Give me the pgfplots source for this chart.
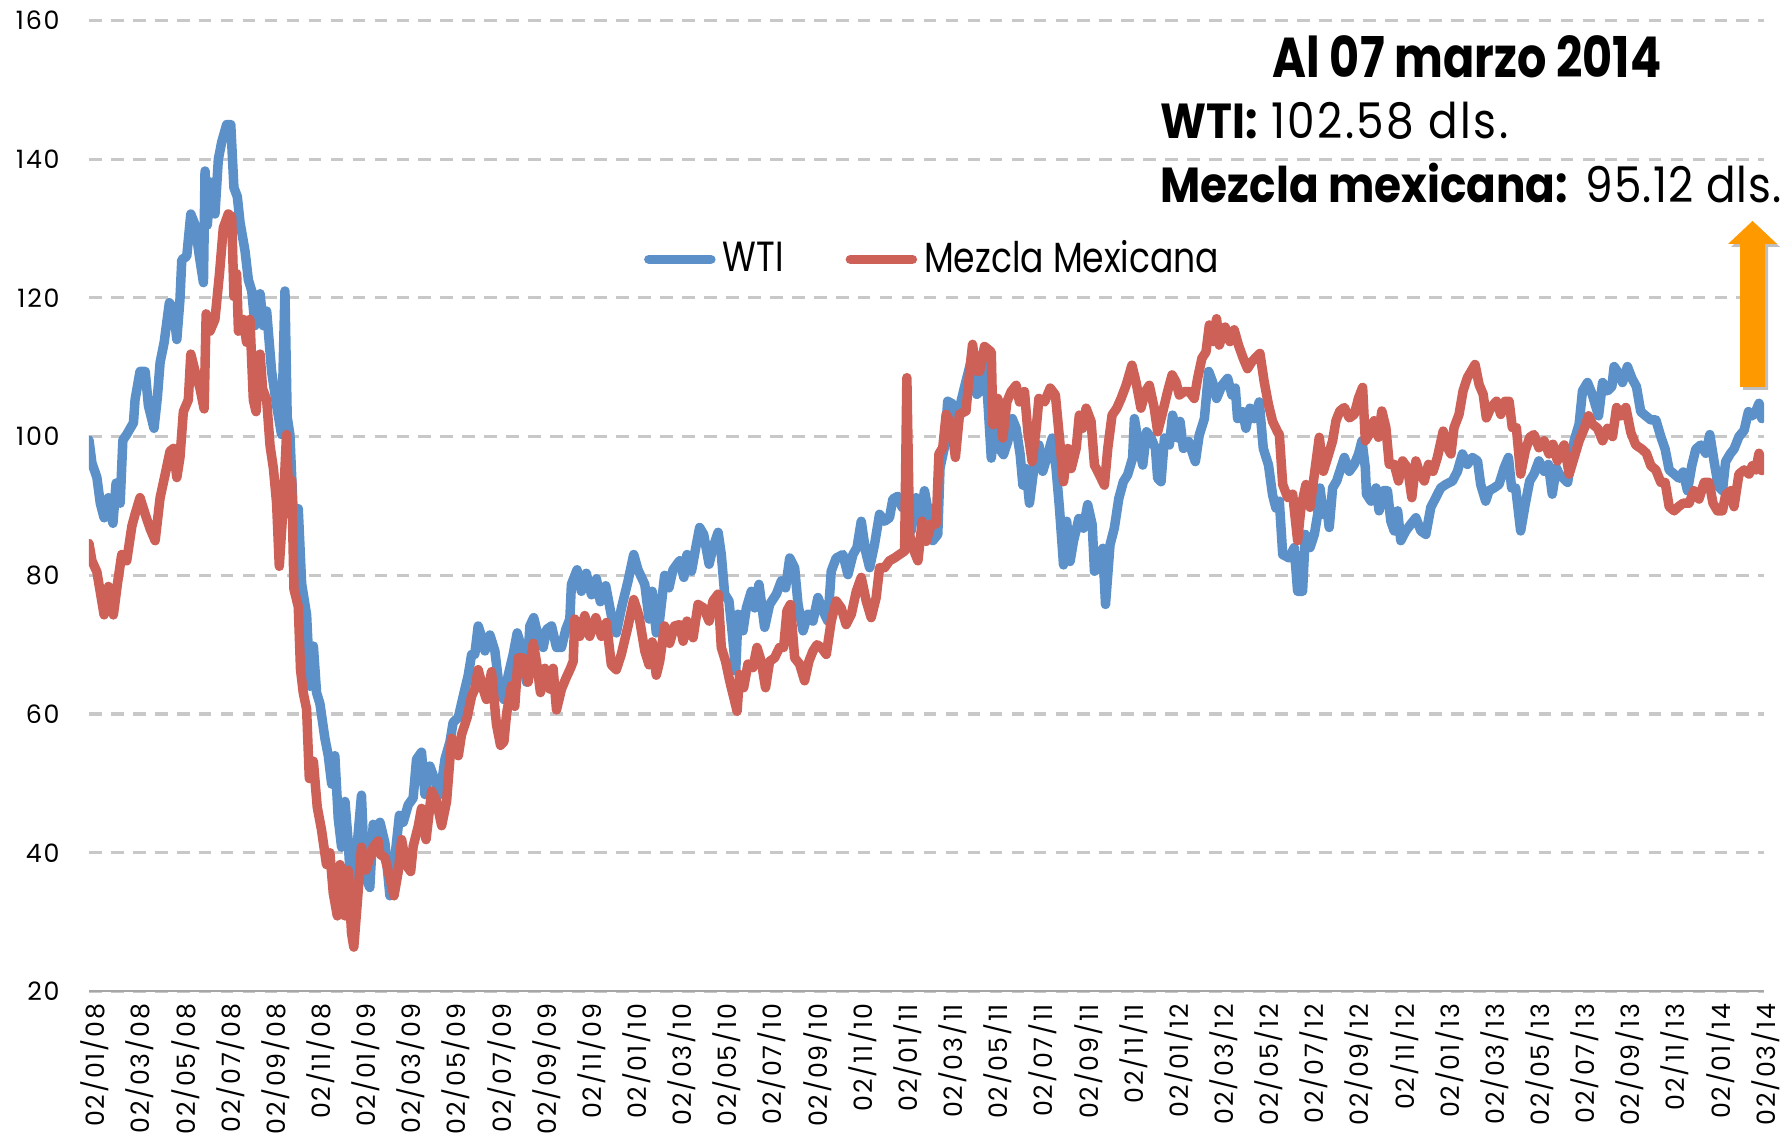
\documentclass[border=0pt]{standalone}
\usepackage{fontspec}
\setmainfont{Poppins}
\newfontfamily\fut[FakeStretch=0.82]{Poppins}
\newfontfamily\futb[FakeStretch=0.89]{Poppins}
\newfontfamily\futr[FakeStretch=0.89,LetterSpace=5]{Poppins}
\newfontfamily\futrr[FakeStretch=0.89,LetterSpace=2.2]{Poppins}
\newfontfamily\tickf[LetterSpace=7]{Poppins}
\usepackage{pgfplots}
\pgfplotsset{compat=1.18}
\usepackage{pgfplotstable}
\definecolor{wti}{HTML}{5B90C9}
\definecolor{mez}{HTML}{CD6157}
\definecolor{grd}{HTML}{C8C8C8}
\definecolor{axg}{HTML}{A6A6A6}
\definecolor{arr}{HTML}{FF9900}

\pgfplotstableread{
m v
0 99.5
0.13 96.2
0.35 94.1
0.5 90.4
0.67 88.3
0.86 91.2
1.06 87.5
1.2 93.3
1.38 90.4
1.5 99.5
1.67 100.3
1.97 102
2.04 105.3
2.26 109.4
2.49 109.4
2.63 104.5
2.88 101.2
3.03 105.7
3.15 110.7
3.33 113.6
3.56 119.3
3.74 118.5
3.89 114
4.03 119.8
4.11 125.5
4.33 126
4.51 132.1
4.7 130.5
4.89 126
5.07 122.2
5.14 138.3
5.24 130.5
5.39 136.7
5.58 132.1
5.73 140
5.88 142.5
6.1 145
6.28 145
6.42 135.9
6.57 134.6
6.69 130.9
6.91 126.8
7.06 122.6
7.21 121
7.35 116
7.58 120.6
7.72 116
7.87 118.1
8.09 109.4
8.31 104.5
8.53 100.3
8.68 121
8.78 102.8
8.9 100.3
9.05 88.8
9.27 89.6
9.42 78.8
9.64 74.3
9.79 64
9.94 69.8
10.08 63.1
10.23 61.5
10.45 56.5
10.6 54
10.75 49.9
10.89 54
11.04 45
11.19 40.8
11.34 47.4
11.48 41.7
11.63 33.4
11.71 30.9
11.85 40
12.07 48.3
12.22 36.7
12.44 35
12.59 44.1
12.81 41.7
12.89 44.4
13.11 41.4
13.33 33.8
13.55 39.3
13.75 45.4
13.92 44.4
14.14 46.9
14.36 47.9
14.51 53.5
14.73 54.5
14.88 48.4
15.1 52.5
15.32 50.5
15.55 48.4
15.77 53.5
15.99 56
16.13 58.8
16.36 59.5
16.58 62.6
16.8 65.6
16.95 68.6
17.09 68.6
17.24 72.7
17.39 71.2
17.54 69.1
17.76 71.4
17.98 69.1
18.2 63.1
18.38 62.1
18.57 65.6
18.79 68.6
18.97 71.7
19.16 69.6
19.38 64.6
19.53 72.7
19.7 73.9
19.9 71.2
20.12 69.6
20.27 72.2
20.49 72.7
20.71 69.6
20.93 69.6
21.12 72.2
21.3 73.7
21.37 78.7
21.62 80.8
21.81 77.7
22.03 80.3
22.26 77.2
22.48 79.5
22.65 76.2
22.89 78.5
23.14 74.2
23.36 71.7
23.58 75.2
23.88 79.2
24.13 83
24.32 80.8
24.62 78.7
24.81 73.7
24.95 77.7
25.13 71.7
25.28 73.7
25.5 80
25.69 78.2
25.87 80.8
26.09 81.8
26.17 82.1
26.35 79.7
26.49 83
26.69 80.6
26.88 84
27.05 86.9
27.23 85.9
27.47 81.6
27.64 84
27.87 86.2
28.01 83
28.16 77.3
28.35 76.3
28.5 71.5
28.65 66.2
28.75 74.4
28.97 72
29.12 75.3
29.34 77.7
29.49 75.3
29.68 78.7
29.93 72.5
30.15 75.8
30.45 77.3
30.67 79.2
30.86 78.2
31.04 82.5
31.26 81.1
31.41 75.8
31.63 72
31.85 74.4
32.07 73.4
32.29 76.8
32.51 74.9
32.73 73.4
32.88 80.6
33.1 82.5
33.4 83
33.62 80.1
33.84 83
34.02 84
34.21 87.8
34.4 83.5
34.58 81.1
34.8 84.5
35.02 88.8
35.24 87.8
35.46 88.3
35.61 91
35.83 91.4
36.02 89.8
36.2 91.2
36.42 86.4
36.64 91.2
36.82 87.8
37.01 92.2
37.2 88.8
37.38 85
37.6 85.9
37.7 95.5
37.89 98.4
38.04 105.1
38.26 104.7
38.48 101.3
38.63 105.1
38.85 108
39.08 110.9
39.33 106.1
39.45 106.5
39.67 111.8
39.82 105
39.97 96.9
40.11 101.2
40.33 98.3
40.51 97.4
40.7 99.3
40.9 102.6
41.07 101.2
41.25 97.4
41.37 93
41.51 95.4
41.66 90.4
41.84 95
42.08 98.8
42.25 95
42.47 97.4
42.67 99.8
42.84 95.4
42.99 89.7
43.17 81.5
43.31 87.8
43.46 82
43.61 84.9
43.85 88.2
44.05 86.8
44.24 90.2
44.44 87.3
44.54 80.6
44.76 81.1
44.91 83.9
45.03 75.8
45.23 84.4
45.42 86.8
45.62 91.1
45.82 93.5
46.01 94.5
46.23 96.9
46.31 102.6
46.5 98.8
46.68 95.9
46.85 100.7
47.05 99.8
47.24 98.3
47.34 94
47.49 93.5
47.64 99.8
47.86 98.8
48 103.1
48.23 99.8
48.33 102.2
48.48 98.3
48.71 99.3
49.01 96.4
49.18 100.2
49.41 102.6
49.6 109.4
49.77 107.9
49.95 105.5
50.19 107.4
50.44 108.4
50.63 106
50.78 107
50.88 102.6
51.1 103.6
51.25 101.2
51.43 104.1
51.62 102.6
51.84 105
52.02 98.3
52.25 95.9
52.43 91.6
52.58 89.7
52.73 90.7
52.88 83
53.17 82.5
53.39 84
53.54 77.7
53.76 77.7
53.88 85.9
54.09 84
54.28 85.9
54.43 88.8
54.53 92.6
54.68 88.8
54.82 90.2
54.94 86.9
55.09 92.6
55.27 93.6
55.41 95
55.61 97
55.83 95
56.05 96
56.24 97.5
56.39 99.4
56.54 95.5
56.59 91.7
56.79 90.7
57.01 92.6
57.15 89.3
57.33 92.2
57.52 92.2
57.67 87.8
57.82 86.4
57.97 89.3
58.11 85
58.33 86.4
58.56 87.4
58.78 88.3
59 86.4
59.22 85.9
59.44 89.8
59.66 91.2
59.88 92.6
60.1 93.1
60.4 93.6
60.62 95
60.84 97.5
61.06 96
61.28 97
61.51 96.5
61.65 93.1
61.87 90.7
62.02 92.2
62.24 92.6
62.46 93.1
62.69 95.5
62.88 97
63.02 92.6
63.2 92.6
63.42 86.4
63.62 90.2
63.82 93.6
64.01 94.6
64.23 96.5
64.46 95
64.65 96
64.82 91.7
65 95.5
65.13 94.6
65.5 93.4
65.79 99.4
66.01 101.8
66.16 106.6
66.38 107.8
66.6 106
66.87 103
67.05 107.8
67.27 106.6
67.46 107.2
67.56 110.1
67.79 109
67.93 107.8
68.15 110.1
68.35 108.4
68.55 107.2
68.74 103.6
68.96 103
69.19 102.4
69.41 102.4
69.63 100
69.82 98.2
70 95.2
70.22 94.6
70.44 94
70.62 94.9
70.81 92.2
71 95.8
71.18 98.2
71.4 98.8
71.62 97.6
71.8 100.3
71.99 96.4
72.18 92.8
72.36 92.2
72.5 96.4
72.72 97.6
72.87 98.2
73.09 100
73.32 100.9
73.51 103.6
73.68 103
73.83 103.6
73.98 104.8
74.1 102.6
}\wtidata

\pgfplotstableread{
m v
0 84.6
0.13 82.1
0.35 80.5
0.52 77.2
0.67 74.3
0.86 78.4
1.08 74.3
1.26 78.8
1.45 83
1.67 82.1
1.9 87.1
2.04 88.8
2.26 91.2
2.49 88.8
2.71 86.7
2.93 85
3.15 91.2
3.37 94.5
3.59 97.9
3.74 98.3
3.89 94.1
4.03 97
4.18 103.6
4.4 105.3
4.51 111.9
4.7 109.4
4.92 106.9
5.1 104
5.19 117.7
5.36 115.2
5.58 116.9
5.78 123.5
5.95 130.1
6.17 132.1
6.32 131.7
6.42 120.2
6.54 123.5
6.62 115.2
6.84 116.9
6.98 113.6
7.13 116.9
7.28 105.3
7.4 103.6
7.58 111.9
7.69 106.9
7.87 105.3
8.02 98.7
8.17 95.4
8.31 90.4
8.43 81.3
8.61 90.4
8.75 100.3
8.87 88.8
8.98 93.7
9.08 78
9.27 75.5
9.37 66.4
9.49 63.1
9.64 60.7
9.76 50.7
9.94 53.2
10.11 46.6
10.3 43.3
10.52 38.3
10.67 40
10.82 34.2
11 30.9
11.12 38.3
11.34 30.9
11.48 37.5
11.63 28.4
11.73 26.4
11.88 32.6
12.07 40.8
12.26 37.5
12.44 39.2
12.59 40.8
12.81 41.7
12.89 39.8
13.11 39.3
13.33 36.3
13.51 33.8
13.7 37.3
13.85 41.9
14.04 38.3
14.25 37.3
14.36 40.9
14.59 43.9
14.73 46.4
14.93 41.9
15.18 48.9
15.4 47.4
15.62 43.9
15.84 47.4
16.06 56.5
16.36 54
16.5 57
16.75 59.5
16.95 62.6
17.09 63.6
17.24 66.4
17.46 63.6
17.61 62.1
17.83 66.1
18.05 58.5
18.23 55.5
18.38 56
18.5 60.1
18.72 64.1
18.86 61.1
19.01 68.1
19.23 68.1
19.45 64.6
19.68 70.2
19.82 67.6
20 63.1
20.19 66.6
20.41 63.6
20.56 66.6
20.71 60.6
20.93 63.6
21.12 65.1
21.33 66.6
21.45 67.6
21.52 73.7
21.74 71.2
21.96 74.2
22.18 71.2
22.45 73.9
22.7 71.2
22.92 73.2
23.14 67.1
23.36 66.4
23.58 68.6
23.88 72.7
24.13 76.5
24.36 74.2
24.62 69.1
24.81 67.1
24.95 70.4
25.13 65.6
25.28 67.6
25.5 72.7
25.72 70.2
25.94 72.7
26.17 72.9
26.32 70.5
26.49 73.4
26.76 71
26.98 75.8
27.23 75.3
27.47 73.4
27.64 76.3
27.87 77.3
28.01 69.6
28.2 67.6
28.38 64.8
28.6 61.9
28.71 60.4
28.82 65.7
29 63.8
29.19 67.2
29.41 66.7
29.59 69.6
29.78 67.6
29.97 63.8
30.15 67.6
30.37 68.1
30.59 69.6
30.77 69.6
30.92 74.9
31.07 75.8
31.26 68.1
31.48 67.2
31.7 64.8
31.89 67.6
32.07 69.1
32.25 70
32.44 69.6
32.66 68.6
32.88 73.4
33.1 76.3
33.32 75.3
33.54 72.9
33.77 74.4
33.99 77.7
34.21 79.7
34.43 76.3
34.65 73.9
34.87 76.8
35.02 81.1
35.24 81.1
35.46 82.1
35.68 82.5
35.9 83
36.13 83.5
36.23 108.5
36.35 85.9
36.49 84
36.72 82.1
36.91 87.8
37.09 84.9
37.31 87.4
37.53 87.4
37.65 97.5
37.82 98.4
37.97 103.2
38.19 101.8
38.38 97
38.56 103.2
38.85 103.7
39.03 110
39.14 113.3
39.29 109.5
39.45 109.4
39.67 113
39.97 112.2
40.04 101.7
40.26 105.5
40.48 99.8
40.66 105
40.85 106.5
41.07 107.4
41.22 105
41.44 106.5
41.59 100.7
41.78 96.4
41.96 101.2
42.08 105.5
42.33 105
42.58 107
42.81 106
42.99 99.8
43.17 93.5
43.36 98.3
43.51 95.4
43.73 98.3
43.87 103.1
44.02 101.2
44.17 104.1
44.39 102.2
44.54 95.9
44.76 94.5
44.98 93
45.13 98.3
45.32 103.1
45.53 104.1
45.72 105.5
45.94 107.4
46.2 110.3
46.38 107.9
46.6 104.1
46.8 106.5
46.97 107.4
47.19 104.1
47.34 100.7
47.53 103.1
47.78 106.5
47.98 108.9
48.15 107.9
48.3 106
48.52 106.5
48.74 106.5
48.96 105.5
49.11 108.4
49.3 111.3
49.48 112.2
49.63 116.1
49.8 113.7
49.95 117
50.07 113.2
50.33 115.8
50.54 113.7
50.73 115.4
50.92 113.2
51.13 111.3
51.32 109.8
51.51 110.8
51.66 111.3
51.87 112
52.06 107.9
52.25 104.6
52.43 102.2
52.65 100.7
52.73 100.3
52.88 93.1
53.1 91.2
53.32 91.7
53.54 85
53.69 89.8
53.91 93.1
54.09 89.8
54.32 95.5
54.5 99.9
54.68 95
54.87 97
55.09 99.4
55.24 102.3
55.41 103.7
55.61 104.2
55.83 102.7
56.05 103.2
56.24 105.6
56.42 107.1
56.54 99.4
56.71 100.3
56.93 102.3
57.12 99.9
57.27 103.7
57.45 101.3
57.6 96
57.82 96
58.01 93.6
58.19 96.5
58.41 95.5
58.6 91.2
58.78 96.5
58.92 95
59.15 93.6
59.34 96
59.54 95
59.73 97
59.99 100.8
60.18 98.4
60.33 97.5
60.47 101.3
60.69 103.2
60.87 106.6
61.06 108.5
61.4 110.4
61.58 107.5
61.76 106.1
61.9 102.7
62.1 104.2
62.35 105.1
62.54 103.2
62.73 105.1
62.91 105.1
63.05 101.3
63.23 101.3
63.42 94.6
63.62 97.9
63.82 99.9
64.01 100.3
64.23 98.4
64.46 99.4
64.68 97.5
64.85 98.9
65.05 96.5
65.13 97.6
65.35 98.8
65.57 94.6
65.79 97
66.01 99.4
66.24 101.2
66.43 103
66.6 101.8
66.83 101.2
67.05 99.4
67.27 101.2
67.49 100
67.67 104.2
67.86 103
68.08 104.2
68.3 100.6
68.52 98.8
68.79 98.2
68.99 97.6
69.19 95.8
69.41 95.2
69.63 93.4
69.82 93.4
70 89.9
70.22 89.3
70.41 89.9
70.62 90.4
70.88 90.4
71.1 92.2
71.32 91
71.55 93.4
71.77 93.4
71.94 90.4
72.14 89.3
72.36 89.3
72.5 91.6
72.72 92.2
72.87 89.9
73.09 94.6
73.32 95.2
73.54 94.6
73.68 95.8
73.83 95.2
73.98 97.6
74.1 95.1
}\mezdata

\begin{document}
\begin{tikzpicture}
\path[use as bounding box] (0,0) rectangle (17.87,11.41);
\begin{axis}[
  at={(0.89cm,1.495cm)}, anchor=south west,
  scale only axis, width=16.75cm, height=9.71cm,
  xmin=0, xmax=74.2, ymin=20, ymax=160,
  ytick={20,40,...,160},
  xtick={0,2,...,74},
  xticklabels={02/01/08,02/03/08,02/05/08,02/07/08,02/09/08,02/11/08,
    02/01/09,02/03/09,02/05/09,02/07/09,02/09/09,02/11/09,
    02/01/10,02/03/10,02/05/10,02/07/10,02/09/10,02/11/10,
    02/01/11,02/03/11,02/05/11,02/07/11,02/09/11,02/11/11,
    02/01/12,02/03/12,02/05/12,02/07/12,02/09/12,02/11/12,
    02/01/13,02/03/13,02/05/13,02/07/13,02/09/13,02/11/13,
    02/01/14,02/03/14},
  axis line style={draw=none},
  major tick length=0pt,
  ymajorgrids,
  grid style={grd, line width=0.9pt, dash pattern=on 3.6pt off 2.65pt},
  /pgf/number format/assume math mode=true,
  ticklabel style={font=\tickf\fontsize{7.2}{8}\selectfont, text=black},
  yticklabel style={anchor=east, xshift=-0.17cm},
  xticklabel style={rotate=90, anchor=east, yshift=-0.06cm},
  legend style={at={(0.331,0.754)}, anchor=west, draw=none, fill=none,
    inner xsep=0pt, font=\fut\fontsize{12}{14}\selectfont,
    /tikz/every even column/.append style={column sep=0.55cm}},
  legend columns=2,
  legend image code/.code={\draw[#1, line cap=round] (0cm,0cm) -- (0.62cm,0cm);},
]
\addplot[wti, line width=2.7pt, line join=round, line cap=round] table[x=m,y=v]{\wtidata};
\addlegendentry{WTI}
\addplot[mez, line width=2.7pt, line join=round, line cap=round] table[x=m,y=v]{\mezdata};
\addlegendentry{Mezcla Mexicana}
\draw[axg, line width=0.9pt] (rel axis cs:0,0) -- (rel axis cs:1,0);
\end{axis}
\node[anchor=base, inner sep=0] at (14.67,10.635) {\fut\fontsize{16}{18}\selectfont\bfseries Al 07 marzo 2014};
\node[anchor=base west, inner sep=0] at (11.60,10.02) {\fontsize{14}{16}\selectfont{\futb\bfseries WTI:} {\futr 102.58 dls.}};
\node[anchor=base west, inner sep=0] at (11.60,9.38) {\fontsize{14}{16}\selectfont{\futb\bfseries Mezcla mexicana:} {\futrr 95.12 dls.}};
\fill[black!25] (17.43,7.51) -- (17.68,7.51) -- (17.68,8.94) -- (17.80,8.94) -- (17.555,9.17) -- (17.31,8.94) -- (17.43,8.94) -- cycle;
\fill[arr] (17.40,7.54) -- (17.65,7.54) -- (17.65,8.97) -- (17.77,8.97) -- (17.525,9.20) -- (17.28,8.97) -- (17.40,8.97) -- cycle;
\end{tikzpicture}
\end{document}
